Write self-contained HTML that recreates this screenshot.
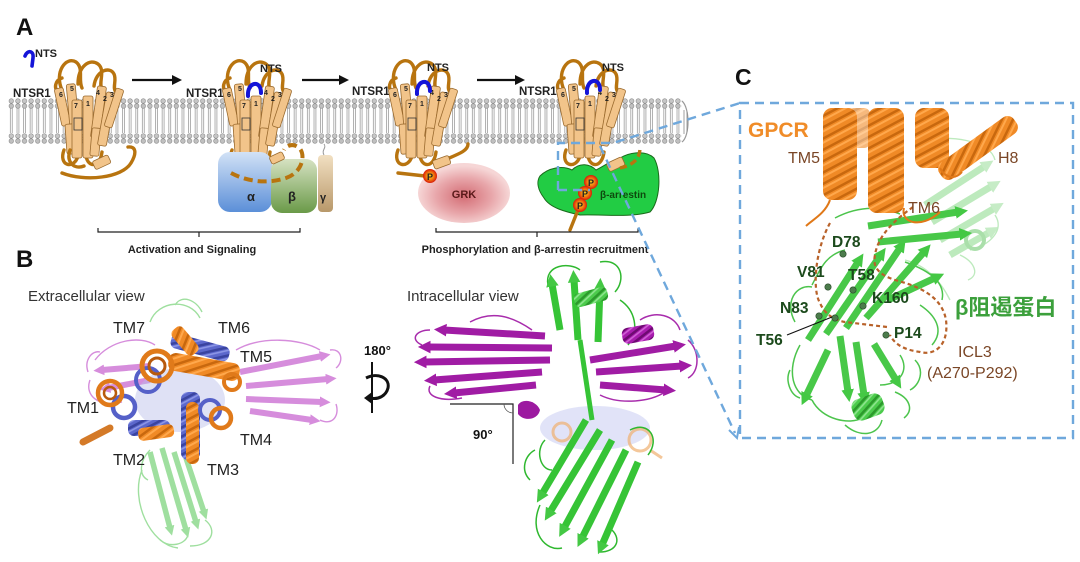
<!DOCTYPE html>
<html><head><meta charset="utf-8">
<style>
html,body{margin:0;padding:0;background:#fff;}
svg{display:block;font-family:"Liberation Sans","Noto Sans CJK SC",sans-serif;}
</style></head>
<body>
<svg width="1080" height="562" viewBox="0 0 1080 562" xmlns="http://www.w3.org/2000/svg">
<defs>
  <pattern id="mem" x="8" y="98" width="6.6" height="46" patternUnits="userSpaceOnUse">
    <line x1="2.4" y1="10" x2="2.4" y2="35" stroke="#8e8e8e" stroke-width="0.7"/>
    <line x1="4.3" y1="10" x2="4.3" y2="35" stroke="#8e8e8e" stroke-width="0.7"/>
    <circle cx="3.3" cy="3" r="2.3" fill="#c6c6c6" stroke="#8c8c8c" stroke-width="0.6"/>
    <circle cx="3.3" cy="8" r="2.3" fill="#c0c0c0" stroke="#8c8c8c" stroke-width="0.6"/>
    <circle cx="3.3" cy="38" r="2.3" fill="#c6c6c6" stroke="#8c8c8c" stroke-width="0.6"/>
    <circle cx="3.3" cy="43" r="2.3" fill="#c0c0c0" stroke="#8c8c8c" stroke-width="0.6"/>
  </pattern>
  <pattern id="hO" width="10" height="10" patternUnits="userSpaceOnUse" patternTransform="rotate(-28)">
    <rect width="10" height="10" fill="#c8680e"/>
    <rect width="10" height="7.5" fill="#f08a26"/>
    <rect y="1.5" width="10" height="2" fill="#ffa84c"/>
  </pattern>
  <pattern id="hB" width="8" height="8" patternUnits="userSpaceOnUse" patternTransform="rotate(-28)">
    <rect width="8" height="8" fill="#3a44a0"/>
    <rect width="8" height="5.5" fill="#5c68cc"/>
    <rect y="1" width="8" height="1.6" fill="#8c96e6"/>
  </pattern>
  <pattern id="hG" width="8" height="8" patternUnits="userSpaceOnUse" patternTransform="rotate(-28)">
    <rect width="8" height="8" fill="#2c9a2c"/>
    <rect width="8" height="5.5" fill="#4ccb4c"/>
    <rect y="1" width="8" height="1.6" fill="#8ee48e"/>
  </pattern>
  <pattern id="hM" width="8" height="8" patternUnits="userSpaceOnUse" patternTransform="rotate(-28)">
    <rect width="8" height="8" fill="#6e0a72"/>
    <rect width="8" height="5.5" fill="#a81cae"/>
    <rect y="1" width="8" height="1.6" fill="#d060d6"/>
  </pattern>
  <linearGradient id="gA" x1="0" y1="0" x2="0" y2="1">
    <stop offset="0" stop-color="#d2e2f6"/><stop offset="1" stop-color="#5b8fd8"/>
  </linearGradient>
  <linearGradient id="gB" x1="0" y1="0" x2="0" y2="1">
    <stop offset="0" stop-color="#d6e2c2"/><stop offset="1" stop-color="#6a9a48"/>
  </linearGradient>
  <linearGradient id="gC" x1="0" y1="0" x2="0" y2="1">
    <stop offset="0" stop-color="#f2e0c2"/><stop offset="1" stop-color="#b8986a"/>
  </linearGradient>
  <radialGradient id="gGRK" cx="0.5" cy="0.55" r="0.5">
    <stop offset="0" stop-color="#d36c74"/><stop offset="0.6" stop-color="#e8a6aa"/><stop offset="1" stop-color="#f6d6d6"/>
  </radialGradient>
  <radialGradient id="gP" cx="0.5" cy="0.5" r="0.5">
    <stop offset="0" stop-color="#ffd21e"/><stop offset="0.55" stop-color="#f07a10"/><stop offset="1" stop-color="#d81a08"/>
  </radialGradient>
  <marker id="aG" viewBox="0 0 10 10" refX="2" refY="5" markerWidth="1.8" markerHeight="2" orient="auto"><path d="M0,0 L10,5 L0,10z" fill="#44c844"/></marker>
  <marker id="aGl" viewBox="0 0 10 10" refX="2" refY="5" markerWidth="1.8" markerHeight="2" orient="auto"><path d="M0,0 L10,5 L0,10z" fill="#8fda8f"/></marker>
  <marker id="aM" viewBox="0 0 10 10" refX="2" refY="5" markerWidth="1.8" markerHeight="2" orient="auto"><path d="M0,0 L10,5 L0,10z" fill="#a01ca4"/></marker>
  <marker id="aMl" viewBox="0 0 10 10" refX="2" refY="5" markerWidth="1.8" markerHeight="2" orient="auto"><path d="M0,0 L10,5 L0,10z" fill="#cf7ad6"/></marker>

  <g id="rec">
    <g fill="none" stroke="#b8740f" stroke-width="3.4" stroke-linecap="round">
      <path d="M-24,90 C-32,72 -20,56 -10,62 C-2,68 -8,80 -4,88"/>
      <path d="M-8,84 C-8,66 4,58 12,64 C20,70 12,84 16,88"/>
      <path d="M8,86 C10,70 24,66 28,74 C31,80 26,88 30,92"/>
      <path d="M-26,94 C-34,88 -30,80 -24,78"/>
      <path d="M-22,150 C-28,166 -12,170 -8,156"/>
      <path d="M0,156 C2,168 14,168 16,152"/>
    </g>
    <g fill="#f2c48a" stroke="#9a6a2e" stroke-width="0.8">
      <rect x="-28" y="88" width="9" height="38" rx="2" transform="rotate(-12 -24 107)"/>
      <rect x="-18" y="84" width="9" height="42" rx="2" transform="rotate(-5 -14 105)"/>
      <rect x="-20" y="124" width="10" height="30" rx="2" transform="rotate(-4 -15 139)"/>
      <rect x="-14" y="100" width="10" height="58" rx="2"/>
      <rect x="-3" y="96" width="10" height="62" rx="2"/>
      <rect x="8" y="86" width="9" height="52" rx="2" transform="rotate(8 12 112)"/>
      <rect x="5" y="128" width="9" height="28" rx="2" transform="rotate(5 9 142)"/>
      <rect x="16" y="92" width="9" height="54" rx="2" transform="rotate(10 20 119)"/>
      <rect x="24" y="88" width="8" height="40" rx="2" transform="rotate(18 28 108)"/>
      <rect x="-12" y="118" width="8" height="12" fill="none" stroke="#333" stroke-width="0.8"/>
    </g>
    <g font-size="7" fill="#222" font-weight="bold">
      <text x="-27" y="97">6</text><text x="-16" y="91">5</text><text x="-12" y="108">7</text>
      <text x="0" y="106">1</text><text x="10" y="95">4</text><text x="17" y="101">2</text><text x="24" y="97">3</text>
    </g>
  </g>
</defs>

<rect width="1080" height="562" fill="#fff"/>

<!-- ================= PANEL A ================= -->
<text x="16" y="35" font-size="24" font-weight="bold" fill="#111">A</text>

<rect x="8" y="98" width="674" height="46" fill="url(#mem)"/>
<path d="M682,101 C690,108 690,136 682,142" fill="none" stroke="#999" stroke-width="1.2"/>
<path d="M684,110 L684,134 M687,112 L687,132" stroke="#888" stroke-width="0.8"/>

<path d="M25,56 C27,50 34,50 33,58 L32,66" fill="none" stroke="#1414d8" stroke-width="3.6" stroke-linecap="round"/>
<text x="35" y="57" font-size="11" font-weight="bold" fill="#222">NTS</text>

<g stroke="#111" stroke-width="2.2">
  <line x1="132" y1="80" x2="174" y2="80"/><line x1="302" y1="80" x2="341" y2="80"/><line x1="477" y1="80" x2="517" y2="80"/>
</g>
<g fill="#111">
  <polygon points="182,80 172,75 172,85"/><polygon points="349,80 339,75 339,85"/><polygon points="525,80 515,75 515,85"/>
</g>

<g font-size="11.5" font-weight="bold" fill="#222">
  <text x="13" y="97">NTSR1</text>
  <text x="186" y="97">NTSR1</text>
  <text x="352" y="95">NTSR1</text>
  <text x="519" y="95">NTSR1</text>
</g>

<!-- Receptor 1 -->
<use href="#rec" x="86"/>
<g fill="none" stroke="#b8740f" stroke-width="3.4" stroke-linecap="round">
  <path d="M62,173 C85,182 122,178 131,163 C137,153 136,146 128,147"/>
  <path d="M70,150 C66,162 74,170 84,166"/>
</g>
<rect x="93" y="158" width="17" height="9" rx="2" fill="#f2c48a" stroke="#9a6a2e" stroke-width="0.8" transform="rotate(-25 101 162)"/>

<!-- Receptor 2 + G protein -->
<use href="#rec" x="254"/>
<path d="M248,96 C247,82 261,79 261,93" fill="none" stroke="#1414d8" stroke-width="4" stroke-linecap="round"/>
<text x="260" y="72" font-size="11" font-weight="bold" fill="#222">NTS</text>
<rect x="218" y="152" width="54" height="60" rx="12" fill="url(#gA)"/>
<rect x="271" y="159" width="46" height="54" rx="11" fill="url(#gB)"/>
<rect x="318" y="155" width="15" height="57" rx="4" fill="url(#gC)"/>
<path d="M324,155 C321,150 327,148 324,144" fill="none" stroke="#999" stroke-width="1"/>
<rect x="270" y="154" width="14" height="8" rx="2" fill="#f2c48a" stroke="#9a6a2e" stroke-width="0.8" transform="rotate(-25 277 158)"/>
<path d="M231,173 C248,182 268,184 286,178 C304,172 306,152 298,147 C292,143 286,146 284,150" fill="none" stroke="#b8740f" stroke-width="4" stroke-dasharray="9,5"/>
<g font-size="13" font-weight="bold" fill="#222">
  <text x="247" y="201">α</text><text x="288" y="201">β</text><text x="320" y="201" font-size="11">γ</text>
</g>

<!-- Receptor 3 + GRK -->
<use href="#rec" x="420"/>
<path d="M417,94 C416,80 430,77 430,91" fill="none" stroke="#1414d8" stroke-width="4" stroke-linecap="round"/>
<text x="427" y="71" font-size="11" font-weight="bold" fill="#222">NTS</text>
<ellipse cx="464" cy="193" rx="46" ry="30" fill="url(#gGRK)"/>
<text x="464" y="198" font-size="11" font-weight="bold" fill="#5a1a1a" text-anchor="middle">GRK</text>
<g fill="none" stroke="#b8740f" stroke-width="3.4" stroke-linecap="round">
  <path d="M398,173 L425,176"/>
  <path d="M440,162 C455,155 468,152 468,144"/>
</g>
<rect x="433" y="158" width="17" height="9" rx="2" fill="#f2c48a" stroke="#9a6a2e" stroke-width="0.8" transform="rotate(-20 441 162)"/>
<circle cx="430" cy="176" r="7" fill="url(#gP)"/>
<text x="430" y="180" font-size="9" font-weight="bold" fill="#222" text-anchor="middle">P</text>

<!-- Receptor 4 + arrestin -->
<use href="#rec" x="588"/>
<path d="M587,93 C586,79 600,76 600,90" fill="none" stroke="#1414d8" stroke-width="4" stroke-linecap="round"/>
<text x="602" y="71" font-size="11" font-weight="bold" fill="#222">NTS</text>
<path d="M540,176 C548,168 562,165 572,170 C580,162 590,164 596,170 C604,166 612,160 620,158 C630,152 646,150 654,158 C662,172 660,202 650,212 C630,218 600,214 580,215 C566,212 550,208 544,198 C538,190 536,182 540,176 Z" fill="#22cc44" stroke="#1a6a1a" stroke-width="1"/>
<rect x="607" y="160" width="17" height="9" rx="2" fill="#f2c48a" stroke="#9a6a2e" stroke-width="0.8" transform="rotate(-25 615 164)"/>
<path d="M620,168 C634,165 640,158 640,148" fill="none" stroke="#b8740f" stroke-width="3.4" stroke-dasharray="7,4"/>
<path d="M580,205 L570,230" fill="none" stroke="#b8740f" stroke-width="3.4" stroke-linecap="round"/>
<circle cx="591" cy="182" r="7" fill="url(#gP)"/><circle cx="585" cy="193" r="7" fill="url(#gP)"/><circle cx="580" cy="205" r="7" fill="url(#gP)"/>
<g font-size="9" font-weight="bold" fill="#222" text-anchor="middle">
  <text x="591" y="186">P</text><text x="585" y="197">P</text><text x="580" y="209">P</text>
</g>
<text x="600" y="198" font-size="10" font-weight="bold" fill="#0e4a0e">β-arrestin</text>

<g fill="none" stroke="#222" stroke-width="1.2">
  <path d="M98,228 L98,232 L300,232 L300,228 M199,232 L199,237"/>
  <path d="M436,228 L436,232 L638,232 L638,228 M537,232 L537,237"/>
</g>
<text x="192" y="253" font-size="11" font-weight="bold" fill="#222" text-anchor="middle">Activation and Signaling</text>
<text x="535" y="253" font-size="11" font-weight="bold" fill="#222" text-anchor="middle">Phosphorylation and β-arrestin recruitment</text>

<!-- ================= PANEL B ================= -->
<text x="16" y="267" font-size="24" font-weight="bold" fill="#111">B</text>
<text x="28" y="301" font-size="15" fill="#333">Extracellular view</text>
<text x="407" y="301" font-size="15" fill="#333">Intracellular view</text>

<!-- extracellular structure -->
<g opacity="0.85">
  <g fill="none" stroke="#8fda8f" stroke-width="1.4">
    <path d="M150,322 C158,300 190,298 200,318"/><path d="M175,305 C182,294 196,300 202,312"/>
    <path d="M142,470 C130,500 150,545 178,548"/><path d="M205,520 C218,530 212,546 190,546"/>
    <path d="M150,450 C140,460 138,475 148,480"/><path d="M160,540 C170,548 185,545 188,535"/>
  </g>
  <g fill="none" stroke="#8fda8f" stroke-width="5.5" marker-end="url(#aGl)">
    <path d="M150,452 L170,528"/><path d="M162,448 L186,530"/><path d="M174,452 L196,522"/><path d="M186,458 L204,512"/>
  </g>
  <g fill="none" stroke="#cf7ad6" stroke-width="1.4">
    <path d="M95,360 C110,340 140,335 155,345"/><path d="M90,380 C84,396 100,408 122,402"/>
    <path d="M330,350 C342,348 344,362 336,368"/><path d="M320,420 C332,426 340,416 336,404"/>
    <path d="M236,350 C260,336 300,338 320,350"/><path d="M88,372 C84,360 92,350 100,352"/>
  </g>
  <g fill="none" stroke="#cf7ad6" stroke-width="6" marker-end="url(#aMl)">
    <path d="M240,372 L322,356"/><path d="M246,386 L328,379"/><path d="M246,399 L322,402"/><path d="M250,411 L312,420"/>
    <path d="M150,366 L102,370"/><path d="M150,380 L108,388"/>
  </g>
</g>
<ellipse cx="180" cy="400" rx="45" ry="32" fill="#b9bde8" opacity="0.45"/>
<rect x="170" y="340" width="60" height="15" rx="6" fill="url(#hB)" transform="rotate(15 200 348)"/>
<rect x="178" y="325" width="14" height="32" rx="5" fill="url(#hO)" transform="rotate(-40 185 341)"/>
<rect x="168" y="358" width="72" height="18" rx="7" fill="url(#hO)" transform="rotate(10 204 367)"/>
<circle cx="148" cy="380" r="12" fill="none" stroke="#5560c8" stroke-width="4"/>
<circle cx="157" cy="366" r="15" fill="none" stroke="#e07a1a" stroke-width="5"/>
<circle cx="157" cy="366" r="8" fill="none" stroke="#b85a0e" stroke-width="3"/>
<circle cx="124" cy="407" r="11" fill="none" stroke="#5560c8" stroke-width="4.5"/>
<circle cx="110" cy="393" r="12" fill="none" stroke="#e07a1a" stroke-width="4.5"/>
<circle cx="110" cy="393" r="6" fill="none" stroke="#b85a0e" stroke-width="2.5"/>
<rect x="128" y="420" width="42" height="16" rx="6" fill="url(#hB)"/>
<rect x="138" y="426" width="36" height="13" rx="5" fill="url(#hO)" transform="rotate(-8 156 432)"/>
<rect x="181" y="392" width="19" height="68" rx="7" fill="url(#hB)"/>
<rect x="186" y="402" width="13" height="62" rx="6" fill="url(#hO)"/>
<circle cx="210" cy="410" r="10" fill="none" stroke="#5560c8" stroke-width="4"/>
<circle cx="221" cy="418" r="10" fill="none" stroke="#e07a1a" stroke-width="4.5"/>
<circle cx="232" cy="382" r="8" fill="none" stroke="#e07a1a" stroke-width="4"/>
<path d="M83,442 L110,428" stroke="#d47a28" stroke-width="7" stroke-linecap="round"/>
<g font-size="16" fill="#222">
  <text x="113" y="333">TM7</text><text x="218" y="333">TM6</text><text x="240" y="362">TM5</text>
  <text x="67" y="413">TM1</text><text x="240" y="445">TM4</text><text x="113" y="465">TM2</text><text x="207" y="475">TM3</text>
</g>

<!-- rotation symbol -->
<text x="364" y="355" font-size="13" font-weight="bold" fill="#111">180°</text>
<line x1="372" y1="362" x2="372" y2="413" stroke="#111" stroke-width="2"/>
<path d="M366,378 C378,372 390,378 388,388 C386,396 378,400 370,398" fill="none" stroke="#111" stroke-width="3"/>
<polygon points="364,398 372,392 372,404" fill="#111"/>

<!-- 90 deg angle -->
<path d="M450,404 L513,404 L513,464" fill="none" stroke="#222" stroke-width="1.2"/>
<path d="M504,404 C504,409 508,413 513,413" fill="none" stroke="#555" stroke-width="0.8"/>
<text x="473" y="439" font-size="13" font-weight="bold" fill="#111">90°</text>

<!-- intracellular structure -->
<ellipse cx="595" cy="428" rx="55" ry="22" fill="#a8b0ea" opacity="0.35"/>
<g fill="none" stroke="#f0b070" stroke-width="3" opacity="0.7">
  <circle cx="640" cy="440" r="11"/><circle cx="562" cy="432" r="9"/><path d="M650,450 L662,458"/>
</g>
<g fill="none" stroke="#2fb82f" stroke-width="1.5">
  <path d="M548,285 C544,264 570,262 580,270"/><path d="M600,262 C622,258 626,280 615,292"/>
  <path d="M540,505 C528,532 546,552 562,548"/><path d="M600,552 C616,552 622,540 612,530"/>
  <path d="M545,440 C535,450 540,470 552,470"/><path d="M630,430 C650,420 660,440 648,455"/>
  <path d="M530,480 C520,470 525,455 535,450"/><path d="M620,300 C635,310 640,330 628,345"/>
</g>
<g fill="none" stroke="#36c436" stroke-width="7" marker-end="url(#aG)">
  <path d="M560,330 L552,284"/><path d="M578,340 L574,280"/><path d="M598,342 L600,288"/>
  <path d="M612,440 L564,528"/><path d="M626,450 L582,538"/><path d="M600,430 L550,512"/><path d="M638,462 L602,545"/><path d="M586,420 L542,494"/>
</g>
<path d="M580,340 L592,420" stroke="#36c436" stroke-width="5"/>
<rect x="574" y="290" width="34" height="14" rx="5" fill="url(#hG)" transform="rotate(-15 591 297)"/>
<g fill="none" stroke="#a82cac" stroke-width="1.5">
  <path d="M422,345 C410,340 415,330 430,330"/><path d="M430,386 C425,396 440,402 462,398"/>
  <path d="M470,322 C492,310 512,316 532,330"/><path d="M688,340 C700,350 700,372 688,378"/>
  <path d="M640,320 C655,310 675,315 680,330"/><path d="M600,395 C620,405 650,402 665,392"/>
</g>
<g fill="none" stroke="#a01ca4" stroke-width="7" marker-end="url(#aM)">
  <path d="M545,336 L444,330"/><path d="M552,348 L428,347"/><path d="M550,360 L424,362"/>
  <path d="M542,372 L434,380"/><path d="M536,385 L454,393"/>
  <path d="M590,360 L676,346"/><path d="M596,372 L682,366"/><path d="M600,385 L666,390"/>
</g>
<rect x="622" y="326" width="32" height="16" rx="6" fill="url(#hM)" transform="rotate(-10 638 334)"/>
<path d="M518,405 C522,398 536,400 540,410 C538,420 524,422 518,414 Z" fill="#9c1aa0"/>

<!-- dashed blue callout -->
<g fill="none" stroke="#6fa8dc" stroke-width="2.4" stroke-dasharray="9,6">
  <rect x="740" y="103" width="333" height="335"/>
  <path d="M558,190 L558,143 L613,143 L740,103"/>
  <path d="M558,190 L590,190"/>
  <path d="M600,146 L735,433"/>
</g>
<path d="M729,430 L737,438 L739,427" fill="none" stroke="#6fa8dc" stroke-width="2"/>

<!-- ================= PANEL C ================= -->
<text x="735" y="85" font-size="23" font-weight="bold" fill="#111">C</text>

<!-- faint green back sheet -->
<g opacity="0.5">
  <g fill="none" stroke="#7ed67e" stroke-width="7" marker-end="url(#aGl)">
    <path d="M925,205 L985,166"/><path d="M932,222 L992,186"/><path d="M940,240 L995,208"/><path d="M950,255 L990,232"/>
  </g>
  <g fill="none" stroke="#7ed67e" stroke-width="1.4">
    <path d="M920,140 C950,135 990,140 995,160"/><path d="M995,215 C1005,230 990,245 970,250"/>
    <path d="M960,255 C975,262 980,275 968,280"/><path d="M905,260 C925,265 940,280 950,300"/>
  </g>
  <circle cx="975" cy="240" r="9" fill="none" stroke="#58c058" stroke-width="4"/>
</g>

<!-- green main -->
<g fill="none" stroke="#4cc44c" stroke-width="1.5">
  <path d="M800,345 C786,370 792,395 812,400"/><path d="M812,400 C822,420 850,425 862,418"/>
  <path d="M880,385 C900,385 910,370 900,355"/><path d="M905,262 C928,270 946,282 942,300"/>
  <path d="M795,322 C784,302 796,284 812,287"/><path d="M835,218 C858,206 880,206 900,214"/>
  <path d="M920,305 C935,315 945,330 932,345"/><path d="M895,392 C910,398 914,410 904,418"/>
  <path d="M812,285 C820,270 825,255 845,250"/><path d="M845,425 C860,438 878,436 882,420"/>
  <path d="M790,370 C785,380 790,395 800,398"/><path d="M915,360 C925,370 920,385 910,390"/>
</g>
<g fill="none" stroke="#48c848" stroke-width="7" marker-end="url(#aG)">
  <path d="M808,340 L858,262"/><path d="M826,334 L880,256"/><path d="M846,328 L900,248"/><path d="M866,318 L924,252"/>
  <path d="M868,226 L958,212"/><path d="M878,242 L962,234"/>
  <path d="M840,336 L848,392"/><path d="M856,342 L864,395"/><path d="M874,344 L896,380"/><path d="M828,350 L806,396"/>
  <path d="M888,300 L935,278"/>
</g>
<rect x="852" y="396" width="32" height="22" rx="8" fill="url(#hG)" transform="rotate(-20 868 407)"/>

<!-- orange helices -->
<rect x="848" y="108" width="22" height="40" rx="6" fill="url(#hO)" opacity="0.6"/>
<rect x="823" y="108" width="34" height="92" rx="9" fill="url(#hO)"/>
<rect x="868" y="108" width="36" height="105" rx="9" fill="url(#hO)"/>
<rect x="915" y="108" width="34" height="60" rx="9" fill="url(#hO)"/>
<rect x="932" y="138" width="92" height="20" rx="8" fill="url(#hO)" transform="rotate(-36 978 148)"/>
<g fill="none" stroke="#e07818" stroke-width="2">
  <path d="M830,200 C825,214 812,220 806,226"/><path d="M904,208 C900,222 920,230 940,212"/>
  <path d="M940,168 C945,178 955,180 962,172"/>
</g>

<!-- dotted ICL3 -->
<g fill="none" stroke="#b8622a" stroke-width="2.2" stroke-dasharray="4,3">
  <path d="M830,223 C815,250 812,290 820,303 C825,315 835,320 845,322 L887,327"/>
  <path d="M913,207 C895,220 878,235 875,255 C872,268 880,275 895,280 C918,286 942,296 946,320 C949,345 935,356 920,352 C905,350 895,345 890,335"/>
</g>

<g fill="#4c7c4c" stroke="#2a4a2a" stroke-width="0.6">
  <circle cx="843" cy="254" r="3.2"/><circle cx="828" cy="287" r="3.2"/><circle cx="853" cy="290" r="3.2"/>
  <circle cx="863" cy="306" r="3.2"/><circle cx="819" cy="316" r="3.2"/><circle cx="835" cy="318" r="3.2"/><circle cx="886" cy="335" r="3.2"/>
</g>
<line x1="787" y1="335" x2="832" y2="317" stroke="#111" stroke-width="1.2"/>

<text x="748" y="137" font-size="21" font-weight="bold" fill="#f08c28">GPCR</text>
<g font-size="16" fill="#7a4626">
  <text x="788" y="163">TM5</text><text x="998" y="163">H8</text><text x="908" y="213">TM6</text>
  <text x="958" y="357">ICL3</text><text x="927" y="378">(A270-P292)</text>
</g>
<g font-size="15.5" font-weight="bold" fill="#1c4a1c">
  <text x="832" y="247">D78</text><text x="797" y="277">V81</text><text x="848" y="280">T58</text>
  <text x="872" y="303">K160</text><text x="780" y="313">N83</text><text x="756" y="345">T56</text><text x="894" y="338">P14</text>
</g>
<text x="955" y="315" font-size="22" font-weight="bold" fill="#3ca03c">β阻遏蛋白</text>
</svg>
</body></html>
